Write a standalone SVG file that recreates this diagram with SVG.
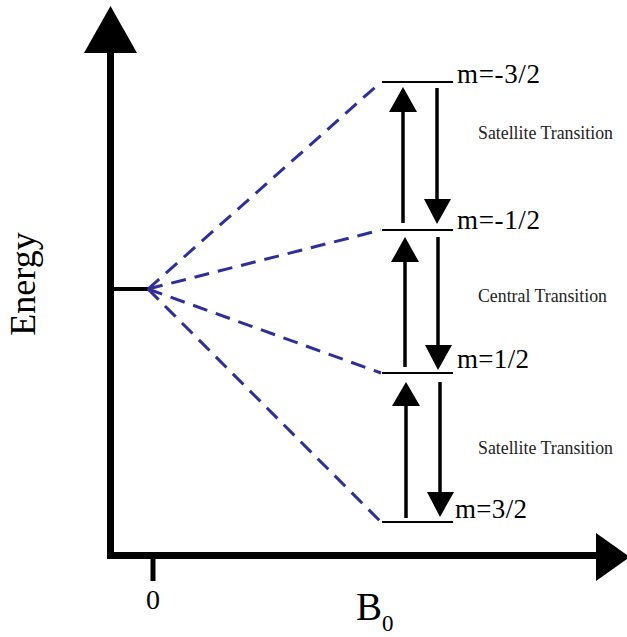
<svg xmlns="http://www.w3.org/2000/svg" width="627" height="637" viewBox="0 0 627 637">
<style>
.axis{stroke:#000;stroke-width:7;fill:none}
.lvl{stroke:#000;stroke-width:2;fill:none}
.arr{stroke:#000;stroke-width:3.5;fill:none}
.dash{stroke:#2e2e9c;stroke-width:3;stroke-dasharray:15 9;fill:none}
.t{font-family:"Liberation Serif","Times New Roman",serif;fill:#000}
.lab{font-size:27px}
.tr{font-size:19px;fill:#222}
</style>
<rect width="627" height="637" fill="#fff"/>
<g id="axes">
<path class="axis" d="M110.5,50 V555.5 H598"/>
<polygon points="110.5,6 84,53 137,53" fill="#000"/>
<polygon points="630,557 596,533 596,581" fill="#000"/>
<path d="M153,559 V581" stroke="#000" stroke-width="5"/>
<path d="M114,289 H148" stroke="#000" stroke-width="4"/>
<text class="t" x="153" y="609" font-size="28" text-anchor="middle">0</text>
<text class="t" x="356" y="620" font-size="39">B<tspan font-size="23" dy="11">0</tspan></text>
<text class="t" x="35" y="284" font-size="36" text-anchor="middle" transform="rotate(-90 35 284)">Energy</text>
</g>
<g id="connectors">
<path class="dash" d="M148,289 L381,82"/>
<path class="dash" d="M148,289 L381,230"/>
<path class="dash" d="M148,289 L381,373"/>
<path class="dash" d="M148,289 L381,522"/>
</g>
<g id="level-m-3-2">
<path class="lvl" d="M382,82 H453"/>
<text class="t lab" x="457" y="83" textLength="83">m=-3/2</text>
</g>
<g id="level-m-1-2">
<path class="lvl" d="M382,230 H453"/>
<text class="t lab" x="457" y="229" textLength="83">m=-1/2</text>
</g>
<g id="level-m1-2">
<path class="lvl" d="M382,373 H453"/>
<text class="t lab" x="457" y="368" textLength="72">m=1/2</text>
</g>
<g id="level-m3-2">
<path class="lvl" d="M382,522 H453"/>
<text class="t lab" x="455" y="518" textLength="72">m=3/2</text>
</g>
<g id="satellite-upper">
<path class="arr" d="M403,223 V108"/>
<polygon points="403,87 389,112 417,112" fill="#000"/>
<path class="arr" d="M437,88 V204"/>
<polygon points="437,224 424,199 451,199" fill="#000"/>
<text class="t tr" x="478" y="139" textLength="135" lengthAdjust="spacingAndGlyphs">Satellite Transition</text>
</g>
<g id="central">
<path class="arr" d="M405,367 V258"/>
<polygon points="405,237 391,262 419,262" fill="#000"/>
<path class="arr" d="M438,237 V350"/>
<polygon points="438,370 425,345 452,345" fill="#000"/>
<text class="t tr" x="478" y="302" textLength="129" lengthAdjust="spacingAndGlyphs">Central Transition</text>
</g>
<g id="satellite-lower">
<path class="arr" d="M406,518 V402"/>
<polygon points="406,382 392,406 420,406" fill="#000"/>
<path class="arr" d="M440,382 V497"/>
<polygon points="440,517 427,492 454,492" fill="#000"/>
<text class="t tr" x="478" y="454" textLength="135" lengthAdjust="spacingAndGlyphs">Satellite Transition</text>
</g>
</svg>
